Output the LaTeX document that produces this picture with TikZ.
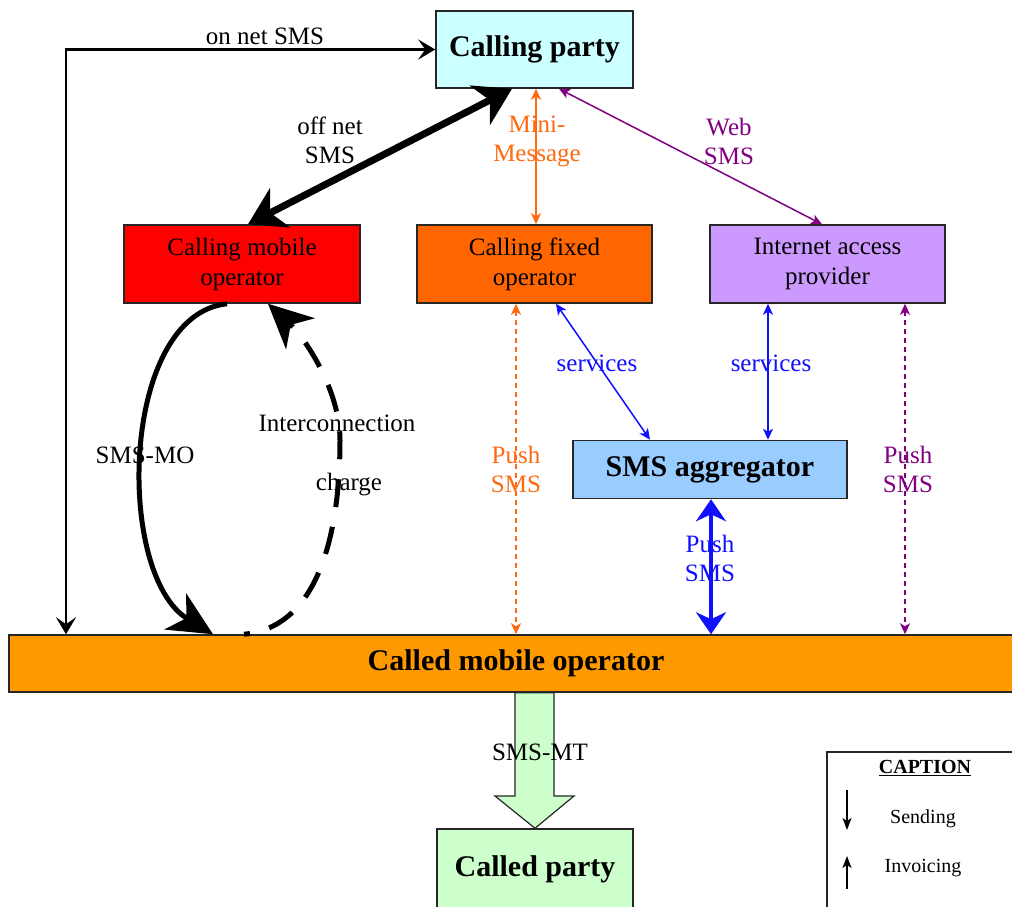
\documentclass[tikz,border=0pt]{standalone}
\usepackage{fontspec}
\setmainfont{Liberation Serif}
\usetikzlibrary{arrows.meta}
\definecolor{cpC}{HTML}{CCFFFF}
\definecolor{cmoC}{HTML}{FF0000}
\definecolor{cfoC}{HTML}{FF6600}
\definecolor{iapC}{HTML}{CC99FF}
\definecolor{aggC}{HTML}{99CCFF}
\definecolor{cmopC}{HTML}{FF9900}
\definecolor{cdpC}{HTML}{CCFFCC}
\definecolor{orC}{HTML}{FF6A10}
\definecolor{puC}{HTML}{800080}
\definecolor{blC}{HTML}{1010FF}
\begin{document}
\begin{tikzpicture}[x=1pt,y=-1pt,
  nbox/.style={draw=black!85, line width=1.5pt, inner sep=0pt, align=center, font=\fontsize{25}{30}\selectfont},
  bbox/.style={nbox, font=\bfseries\fontsize{30}{34}\selectfont},
  lbl/.style={inner sep=0pt, align=center, font=\fontsize{25}{29}\selectfont},
  thinarr/.style={line width=1.5pt, >={Stealth[length=11pt,width=10pt,inset=3pt]}, <->},
  dasharr/.style={thinarr, dash pattern=on 5pt off 4pt},
  onnetarr/.style={line width=2.5pt, >={Stealth[length=17pt,width=20pt,inset=7pt]}, <->},
  offnetarr/.style={line width=7pt, >={Stealth[length=36pt,width=44pt,inset=11pt]}, <->},
  pushbarr/.style={line width=4pt, draw=blC, >={Stealth[length=22pt,width=30pt,inset=7pt]}, <->},
  curvearr/.style={line width=5pt, line cap=butt, >={Stealth[length=44pt,width=42pt,inset=13pt]}, ->},
  captarr/.style={line width=1.5pt, >={Stealth[length=12pt,width=9pt,inset=3pt]}, ->}
]
\useasboundingbox (0,0) rectangle (1012,907);
\fill[white] (0,0) rectangle (1012,907);

% boxes
\node[bbox, fill=cpC, minimum width=197pt, minimum height=77pt] (cp) at (534.5,49.5) {Calling party};
\node[nbox, fill=cmoC, minimum width=236pt, minimum height=78pt] (cmo) at (242,264) {Calling mobile\\operator};
\node[nbox, fill=cfoC, minimum width=235pt, minimum height=78pt] (cfo) at (534.5,264) {Calling fixed\\operator};
\node[nbox, fill=iapC, minimum width=235pt, minimum height=78pt] (iap) at (827.5,264) {Internet access\\provider};
\node[bbox, fill=aggC, minimum width=274pt, minimum height=58pt] (agg) at (710,469.5) {SMS aggregator};
\node[bbox, fill=cmopC, minimum width=1014pt, minimum height=57pt] (cmop) at (516,663.5) {Called mobile operator};
\node[bbox, fill=cdpC, minimum width=196pt, minimum height=80pt] (cdp) at (535,869) {Called party};

% helper x positions
\coordinate (xOn) at (66,0);
\coordinate (xOffA) at (512,0);
\coordinate (xOffB) at (248,0);
\coordinate (xMini) at (536,0);
\coordinate (xWebA) at (559,0);
\coordinate (xWebB) at (822,0);
\coordinate (xPushO) at (516,0);
\coordinate (xServA) at (556,0);
\coordinate (xServB) at (650,0);
\coordinate (xServC) at (768,0);
\coordinate (xPushB) at (711,0);
\coordinate (xPushP) at (905,0);
\coordinate (xMOa) at (227,0);
\coordinate (xMOb) at (213,0);
\coordinate (xICa) at (244,0);
\coordinate (xICb) at (268,0);

% on net SMS
\draw[onnetarr] (cmop.north -| xOn) |- (cp.west);
% off net SMS
\draw[offnetarr] (cp.south -| xOffA) -- (cmo.north -| xOffB);
% Mini-Message
\draw[thinarr, draw=orC] (cp.south -| xMini) -- (cfo.north -| xMini);
% Web SMS
\draw[thinarr, draw=puC] (cp.south -| xWebA) -- (iap.north -| xWebB);
% Push SMS (orange, dashed)
\draw[dasharr, draw=orC] (cfo.south -| xPushO) -- (cmop.north -| xPushO);
% services
\draw[thinarr, draw=blC] (cfo.south -| xServA) -- (agg.north -| xServB);
\draw[thinarr, draw=blC] (iap.south -| xServC) -- (agg.north -| xServC);
% Push SMS (blue, thick)
\draw[pushbarr] (agg.south -| xPushB) -- (cmop.north -| xPushB);
% Push SMS (purple, dashed)
\draw[dasharr, draw=puC] (iap.south -| xPushP) -- (cmop.north -| xPushP);
% SMS-MO
\draw[curvearr] (cmo.south -| xMOa) .. controls (120,315) and (115,575) .. (cmop.north -| xMOb);
% Interconnection charge
\draw[curvearr, dash pattern=on 28pt off 20pt, dash phase=22pt] (cmop.north -| xICa) .. controls (320,627) and (340,530) .. (340,440) .. controls (340,390) and (305,338) .. (cmo.south -| xICb);

% SMS-MT big arrow
\filldraw[fill=cdpC, draw=black!85, line width=1.2pt]
  (cmop.south -| 515,0) -- (515,796) -- (495,796) -- (cdp.north) -- (574,796) -- (554,796) -- (cmop.south -| 554,0) -- cycle;

% labels
\node[lbl] (lOn) at (265,36) {on net SMS};
\node[lbl] (lOff) at (330,140) {off net\\SMS};
\node[lbl, text=orC] (lMini) at (537,141) {Mini-\\Message};
\node[lbl, text=puC] (lWeb) at (729,141) {Web\\SMS};
\node[lbl] (lMO) at (145,455) {SMS-MO};
\node[lbl] (lInter) at (337,423) {Interconnection};
\node[lbl] (lCharge) at (349,485) {charge};
\node[lbl, text=orC] (lPushO) at (516,469) {Push\\SMS};
\node[lbl, text=blC] (lServA) at (597,363) {services};
\node[lbl, text=blC] (lServB) at (771,363) {services};
\node[lbl, text=blC] (lPushB) at (710,558) {Push\\SMS};
\node[lbl, text=puC] (lPushP) at (908,469) {Push\\SMS};
\node[lbl] (lMT) at (540,752) {SMS-MT};

% caption
\node[draw=black!85, line width=1.5pt, minimum width=200pt, minimum height=170pt, inner sep=0pt] (capbox) at (927,837) {};
\node[inner sep=0pt, font=\bfseries\fontsize{20}{24}\selectfont] (capT) at (925,768) {\underline{CAPTION}};
\node[inner sep=0pt, font=\fontsize{20}{24}\selectfont] (capS) at (923,819) {Sending};
\node[inner sep=0pt, font=\fontsize{20}{24}\selectfont] (capI) at (923,868) {Invoicing};
\coordinate (capDa) at (847,790);
\coordinate (capDb) at (847,830);
\coordinate (capUa) at (847,889);
\coordinate (capUb) at (847,856);
\draw[captarr] (capDa) -- (capDb);
\draw[captarr] (capUa) -- (capUb);
\end{tikzpicture}
\end{document}
